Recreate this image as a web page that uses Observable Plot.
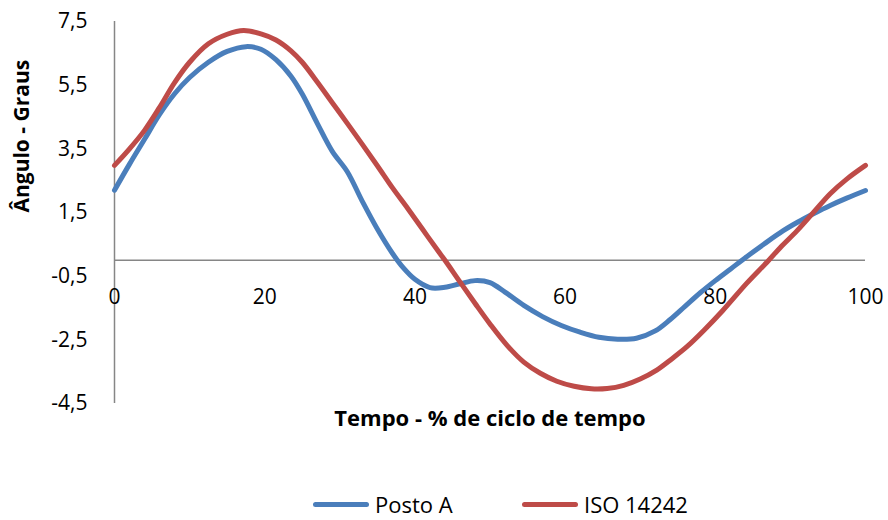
<!DOCTYPE html>
<html>
<head>
<meta charset="utf-8">
<script src="https://cdn.jsdelivr.net/npm/d3@7"></script>
<script src="https://cdn.jsdelivr.net/npm/@observablehq/plot@0.6"></script>
<style>
  body { margin: 0; background: #fff; }
  #wrap { position: relative; width: 888px; height: 520px; font-family: "Open Sans", sans-serif; }
  #legend { position: absolute; top: 493px; left: 0; width: 888px; height: 22px; font-size: 22px; line-height: 1; color: #000; }
  .item { position: absolute; top: 0; display: flex; align-items: center; height: 22px; line-height: 1; }
  .sw { width: 56px; height: 5px; border-radius: 3px; margin-right: 6px; }
</style>
</head>
<body>
<div id="wrap"></div>
<script>
// Posto A (blue) — tempo % and ângulo
const postoX = [0,2,4,6,8,10,12.5,15,17.5,19.5,21.5,23.5,25,27,29,31,33,35,37,38.5,40,42,44,46,48,50,52,54.5,57,59.5,62,64.5,67,69.5,72,74,76,78,80,82,84,86.5,89,91,93,95.3,97.5,100];
const postoY = [2.2,3.02,3.8,4.58,5.23,5.74,6.22,6.56,6.71,6.63,6.3,5.78,5.22,4.3,3.42,2.78,1.85,0.98,0.22,-0.25,-0.6,-0.86,-0.85,-0.74,-0.64,-0.7,-1.0,-1.42,-1.77,-2.05,-2.26,-2.42,-2.48,-2.45,-2.22,-1.86,-1.44,-1.02,-0.64,-0.28,0.08,0.51,0.92,1.2,1.45,1.72,1.95,2.19];
// ISO 14242 (red)
const isoX = [0,2,4,6,8,10,12.5,15,17.2,19.5,21.5,23.5,25,27,29,31,33,35,37,39,41,43,44,46,48,50,52.3,54.5,56.7,58.9,61.2,63.5,65.6,67.8,70,72.2,74.2,76.3,78.5,81,84.2,87,88.7,90.9,93.1,95.3,97.5,100];
const isoY = [2.98,3.5,4.08,4.8,5.58,6.22,6.8,7.1,7.22,7.11,6.92,6.58,6.22,5.6,4.95,4.3,3.64,2.97,2.28,1.64,0.98,0.32,0.0,-0.68,-1.35,-2.0,-2.68,-3.2,-3.55,-3.8,-3.96,-4.04,-4.03,-3.93,-3.73,-3.45,-3.1,-2.7,-2.2,-1.58,-0.72,-0.03,0.41,0.93,1.51,2.09,2.55,2.98];

const seriesNames = ["Posto A", "ISO 14242"];
const seriesColors = ["#4A7EBB", "#BE4B48"];
const xTicks = [0, 20, 40, 60, 80, 100];
const yTicks = [7.5, 5.5, 3.5, 1.5, -0.5, -2.5, -4.5];
const xTitle = "Tempo - % de ciclo de tempo";
const yTitle = "Ângulo - Graus";

const rows = [
  ...postoX.map((x, i) => ({x, y: postoY[i], s: seriesNames[0]})),
  ...isoX.map((x, i) => ({x, y: isoY[i], s: seriesNames[1]}))
];
const fmt = d => d.toFixed(1).replace(".", ",");

const chart = Plot.plot({
  width: 888,
  height: 470,
  marginLeft: 114,
  marginRight: 23,
  marginTop: 21,
  marginBottom: 67,
  style: {fontFamily: "Open Sans, sans-serif", fontSize: "21px", color: "#000", background: "#fff"},
  x: {domain: [0, 100], axis: null},
  y: {domain: [-4.5, 7.5], axis: null},
  color: {domain: seriesNames, range: seriesColors},
  marks: [
    Plot.axisY(yTicks, {tickSize: 0, tickPadding: 27, tickFormat: fmt, fontSize: 21, fill: "#000", label: null}),
    Plot.ruleX([0], {stroke: "#868686", strokeWidth: 1.5}),
    Plot.ruleY([0], {stroke: "#868686", strokeWidth: 1.5}),
    Plot.text(xTicks, {x: d => d, y: 0, dy: 37, text: d => String(d), fontSize: 21, fill: "#000"}),
    Plot.line(rows, {x: "x", y: "y", z: "s", stroke: "s", strokeWidth: 5, curve: "catmull-rom"}),
    Plot.text([xTitle], {frameAnchor: "bottom", dy: 22, fontWeight: "bold", fontSize: 22, fill: "#000"}),
    Plot.text([yTitle], {frameAnchor: "left", dx: -92, rotate: -90, fontWeight: "bold", fontSize: 21, fill: "#000"})
  ]
});
const wrap = document.getElementById("wrap");
wrap.appendChild(chart);

const legend = document.createElement("div");
legend.id = "legend";
const lefts = [313, 522];
seriesNames.forEach((n, i) => {
  const it = document.createElement("div");
  it.className = "item";
  it.style.left = lefts[i] + "px";
  const sw = document.createElement("span");
  sw.className = "sw";
  sw.style.background = seriesColors[i];
  const t = document.createElement("span");
  t.textContent = n;
  it.appendChild(sw); it.appendChild(t);
  legend.appendChild(it);
});
wrap.appendChild(legend);
</script>
</body>
</html>
